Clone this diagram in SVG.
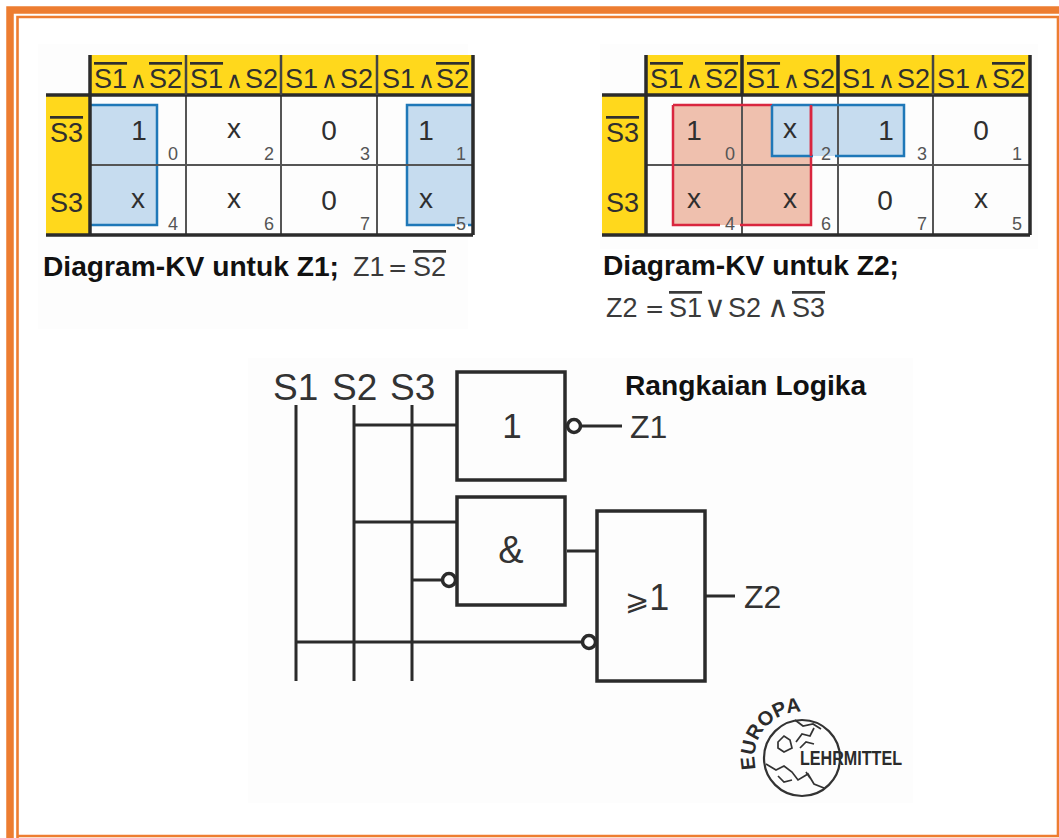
<svg xmlns="http://www.w3.org/2000/svg" width="1059" height="838" viewBox="0 0 1059 838">
<style>
text{font-family:"Liberation Sans",Arial,sans-serif;fill:#2f2f2f}
.h{font-size:27px}
.op{font-family:"DejaVu Sans",sans-serif;font-size:23px}
.op2{font-family:"DejaVu Sans",sans-serif;font-size:30px}
.ol{text-decoration:overline}
.v{font-size:28px;text-anchor:middle}
.i{font-size:18px;fill:#555;text-anchor:middle}
.b{font-size:28.2px;font-weight:bold;fill:#111}
.f{font-size:27px;fill:#3a3a3a}
.l{font-size:37px;fill:#333}
.z{font-size:32px;fill:#333}
.g{stroke:#555;stroke-width:2;fill:none}
.o{stroke:#444;stroke-width:2.5;fill:none}
.k{stroke:#2b2b2b;stroke-width:3.5;fill:none}
.w{stroke:#2b2b2b;stroke-width:3;fill:none}
.bub{stroke:#2b2b2b;stroke-width:3.5;fill:#fff}
.y{fill:#ffd81c}
.bl{fill:none;stroke:#1f78b8;stroke-width:2.5}
.rd{fill:none;stroke:#d9263f;stroke-width:2.5}
.lg{fill:none;stroke:#333;stroke-width:1.7}
</style>
<rect width="1059" height="838" fill="#fff"/>
<g id="border" fill="none" stroke="#ed7d31">
<path d="M10 838V10H1059" stroke-width="7.5"/>
<path d="M17.5 838V17H1058V836H17.5" stroke-width="2.6"/>
</g>
<rect x="38" y="44" width="430" height="285" fill="#fdfdfd"/>
<rect x="600" y="44" width="438" height="205" fill="#fdfdfd"/>
<rect x="248" y="358" width="665" height="445" fill="#fdfdfd"/>

<g id="kv-z1">
<rect class="y" x="90" y="55" width="384" height="40"/>
<rect class="y" x="46" y="96" width="44" height="139"/>
<rect x="91" y="105" width="66" height="120" fill="#c6dcef"/>
<rect x="407" y="105" width="65" height="120" fill="#c6dcef"/>
<path class="bl" d="M91 105H157V225H91"/>
<path class="bl" d="M472 105H407V225H455M468 225H472"/>
<path class="g" d="M186 95V235M281 95V235M377 95V235M90 165H473"/>
<path class="k" d="M46 95H473M90 55V235M46 235H473M473 55V235"/>
<path class="o" d="M186 55V95M281 55V95M377 55V95"/>
<text class="h" y="88"><tspan class="ol" x="94">S1</tspan><tspan class="op" x="130">∧</tspan><tspan class="ol" x="149">S2</tspan></text>
<text class="h" y="88"><tspan class="ol" x="190">S1</tspan><tspan class="op" x="226">∧</tspan><tspan x="245">S2</tspan></text>
<text class="h" y="88"><tspan x="285">S1</tspan><tspan class="op" x="321">∧</tspan><tspan x="340">S2</tspan></text>
<text class="h" y="88"><tspan x="382">S1</tspan><tspan class="op" x="418">∧</tspan><tspan class="ol" x="436">S2</tspan></text>
<text class="h" x="50" y="142"><tspan class="ol">S3</tspan></text>
<text class="h" x="50" y="212">S3</text>
<text class="v" x="139" y="140">1</text><text class="v" x="234" y="138">x</text><text class="v" x="329" y="140">0</text><text class="v" x="426" y="140">1</text>
<text class="v" x="138" y="208">x</text><text class="v" x="234" y="208">x</text><text class="v" x="329" y="210">0</text><text class="v" x="426" y="208">x</text>
<text class="i" x="173" y="160">0</text><text class="i" x="269" y="160">2</text><text class="i" x="365" y="160">3</text><text class="i" x="461" y="160">1</text>
<text class="i" x="173" y="230">4</text><text class="i" x="269" y="230">6</text><text class="i" x="365" y="230">7</text><text class="i" x="461" y="230">5</text>
<text class="b" x="43" y="276">Diagram-KV untuk Z1;</text>
<text class="f" y="276"><tspan x="353">Z1</tspan><tspan class="op" x="388">=</tspan><tspan class="ol" x="413">S2</tspan></text>
</g>

<g id="kv-z2">
<rect class="y" x="647" y="55" width="383" height="40"/>
<rect class="y" x="602" y="96" width="44" height="139"/>
<rect x="673" y="105" width="138" height="120" fill="#efc0ae"/>
<rect x="772" y="105" width="132" height="51" fill="#c6dcef"/>
<path class="g" d="M742 95V235M838 95V235M933 95V235M646 165H1030"/>
<path class="rd" d="M673 105H772M811 105V225H740M720 225H673V105"/>
<path class="bl" d="M772 105H904V156H835M813 156H772V105"/>
<path class="rd" d="M811 105V156"/>
<path class="k" d="M602 95H1030M646 55V235M602 235H1030M1030 55V235"/>
<path class="k" d="M742 55V95M838 55V95"/><path class="o" d="M933 55V95"/>
<text class="h" y="88"><tspan class="ol" x="650">S1</tspan><tspan class="op" x="686">∧</tspan><tspan class="ol" x="705">S2</tspan></text>
<text class="h" y="88"><tspan class="ol" x="747">S1</tspan><tspan class="op" x="783">∧</tspan><tspan x="802">S2</tspan></text>
<text class="h" y="88"><tspan x="842">S1</tspan><tspan class="op" x="878">∧</tspan><tspan x="897">S2</tspan></text>
<text class="h" y="88"><tspan x="937">S1</tspan><tspan class="op" x="973">∧</tspan><tspan class="ol" x="992">S2</tspan></text>
<text class="h" x="606" y="142"><tspan class="ol">S3</tspan></text>
<text class="h" x="606" y="212">S3</text>
<text class="v" x="694" y="140">1</text><text class="v" x="790" y="138">x</text><text class="v" x="886" y="140">1</text><text class="v" x="981" y="140">0</text>
<text class="v" x="694" y="208">x</text><text class="v" x="790" y="208">x</text><text class="v" x="885" y="210">0</text><text class="v" x="981" y="208">x</text>
<text class="i" x="730" y="160">0</text><text class="i" x="826" y="160">2</text><text class="i" x="922" y="160">3</text><text class="i" x="1017" y="160">1</text>
<text class="i" x="730" y="230">4</text><text class="i" x="826" y="230">6</text><text class="i" x="922" y="230">7</text><text class="i" x="1017" y="230">5</text>
<text class="b" x="603" y="275">Diagram-KV untuk Z2;</text>
<text class="f" y="317"><tspan x="606">Z2</tspan><tspan class="op" x="645">=</tspan><tspan class="ol" x="669">S1</tspan><tspan class="op2" x="704">∨</tspan><tspan x="728">S2</tspan><tspan class="op2" x="767">∧</tspan><tspan class="ol" x="792">S3</tspan></text>
</g>

<g id="connectors">
<path class="w" d="M296 405V681M354 405V681M412 405V681"/>
<path class="w" d="M354 425H457M354 522H457M412 580H441M296 642H582M567 551H597M706 596H735M581 426H622"/>
</g>
<g id="gate-not"><rect class="k" x="457" y="372" width="108" height="108"/><circle class="bub" cx="574" cy="426" r="6.5"/><text class="l" x="512" y="438" text-anchor="middle" style="font-size:35px">1</text></g>
<g id="gate-and"><rect class="k" x="457" y="497" width="108" height="108"/><circle class="bub" cx="449" cy="580" r="6.5"/><text class="l" x="511" y="563" text-anchor="middle" style="font-size:38px">&amp;</text></g>
<g id="gate-or"><rect class="k" x="597" y="511" width="108" height="170"/><circle class="bub" cx="589" cy="642" r="6.5"/><text class="l" y="610" style="font-size:36px"><tspan style="font-family:'DejaVu Sans',sans-serif;font-size:29px" x="625">⩾</tspan>1</text></g>
<g id="labels">
<text class="l" x="273" y="400">S1</text><text class="l" x="332" y="400">S2</text><text class="l" x="390" y="400">S3</text>
<text class="z" x="630" y="438">Z1</text>
<text class="z" x="744" y="608">Z2</text>
<text class="b" x="625" y="395">Rangkaian Logika</text>
</g>
<g id="logo">
<circle cx="802" cy="758" r="38" class="lg" style="stroke-width:2.2"/>
<path class="lg" d="M795 720l8 6 10-2 8 5M778 742l6-6 6 4 2 8-8 4-6-4zM796 742l6-8 8 2 4-8M800 748l6-6 8 2"/>
<path class="lg" d="M766 764l10 6 8-4 8 6 6 8 10-6 6 10 10 4M778 776l6 6 8-2M806 772l4 6"/>
<text x="800" y="765" textLength="102" lengthAdjust="spacingAndGlyphs" style="font-size:20px;font-weight:bold;fill:#2b2b2b">LEHRMITTEL</text>
<path id="logoarc" d="M756 769A46 46 0 0 1 806 712" fill="none"/>
<text style="font-size:20px;fill:#2b2b2b;font-weight:bold"><textPath href="#logoarc">EUROPA</textPath></text>
</g>
</svg>
